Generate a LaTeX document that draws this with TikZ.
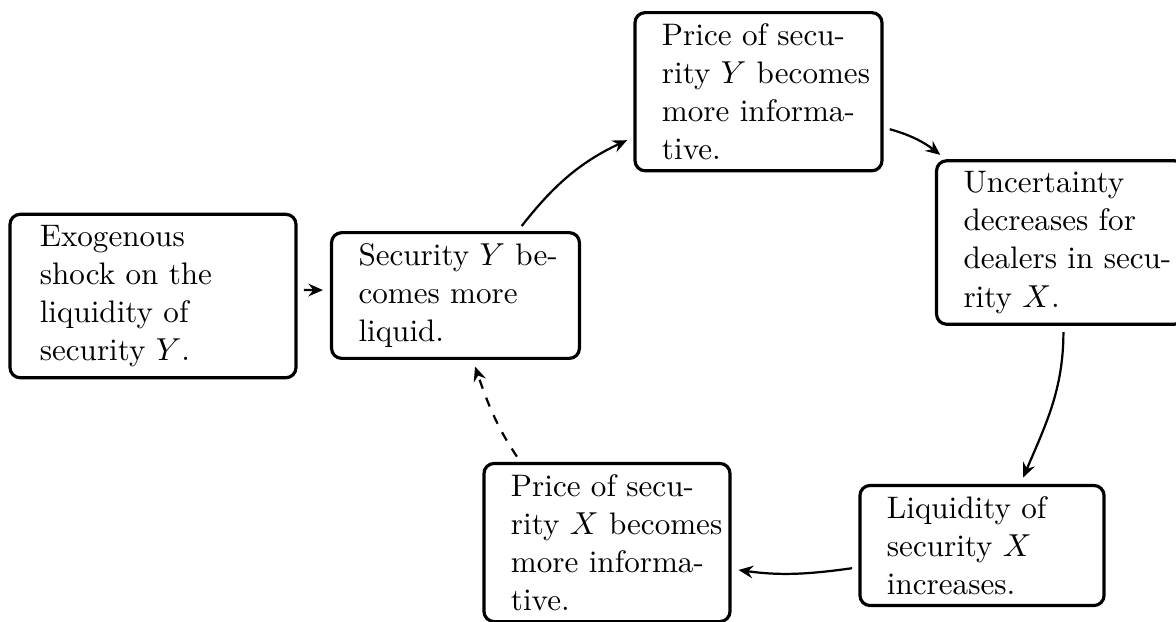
\documentclass[tikz,border=0pt]{standalone}
\usetikzlibrary{arrows.meta}
\newcommand{\tline}[1]{\mbox{#1}}
\begin{document}
\begin{tikzpicture}[x=0.315pt,y=0.315pt,
  box/.style={draw, line width=1pt, rounded corners=3.2pt, align=left,
    inner xsep=8.5pt, inner ysep=3.4pt, text width=61pt,
    font={\fontsize{9.8}{12}\selectfont}},
  link/.style={line width=0.7pt, -{Stealth[length=4.6pt,width=4pt,inset=1.6pt]},
    shorten <=2pt, shorten >=2.2pt}]
\useasboundingbox (0,0) rectangle (1176,-621);
\node[box, text width=71.3pt, inner xsep=9.4pt] (B1) at (153,-296)
  {\tline{Exogenous}\\ \tline{shock on the}\\ \tline{liquidity of}\\ \tline{security $Y$.}};
\node[box, text width=61.1pt] (B2) at (455.5,-295.5)
  {\tline{Security $Y$ be-}\\ \tline{comes more}\\ \tline{liquid.}};
\node[box, text width=60.8pt] (B3) at (758.5,-91.7)
  {\tline{Price of secu-}\\ \tline{rity $Y$ becomes}\\ \tline{more informa-}\\ \tline{tive.}};
\node[box, text width=61.1pt] (B4) at (1060.5,-242.5)
  {\tline{Uncertainty}\\ \tline{decreases for}\\ \tline{dealers in secu-}\\ \tline{rity $X$.}};
\node[box, text width=59.9pt] (B5) at (982,-545.5)
  {\tline{Liquidity of}\\ \tline{security $X$}\\ \tline{increases.}};
\node[box, text width=60.5pt] (B6) at (607,-542.5)
  {\tline{Price of secu-}\\ \tline{rity $X$ becomes}\\ \tline{more informa-}\\ \tline{tive.}};
\draw[link] ([yshift=1.9pt]B1.east) -- ([yshift=1.7pt]B2.west);
\draw[link] (B2.46) to[out=52,in=205] (B3.200);
\draw[link] (B3.-16) to[out=-15,in=142] (B4.144);
\draw[link] (B4.-88) to[out=-90,in=67] (B5.58);
\draw[link] (B5.190) to[out=188,in=-8] (B6.-12);
\draw[link, dashed] (B6.137) to[out=124,in=-71] (B2.-75);
\end{tikzpicture}
\end{document}
